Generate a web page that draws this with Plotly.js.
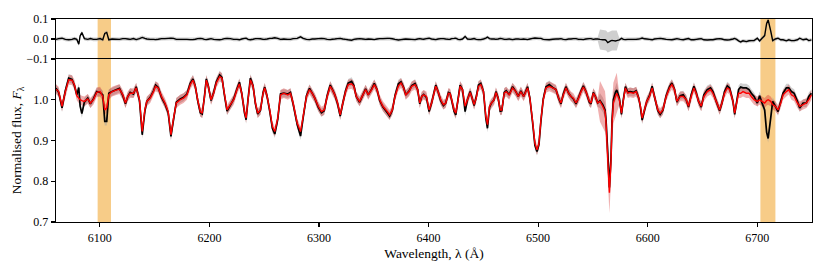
<!DOCTYPE html>
<html><head><meta charset="utf-8">
<script src="https://cdn.plot.ly/plotly-3.0.1.min.js"></script>
<style>html,body{margin:0;padding:0;background:#fff}#chart{width:830px;height:277px}</style>
</head><body><div id="chart"></div>
<script>
// Wavelength knots (Angstrom)
const wavelength = [
6060.0,6062.4,6065.5,6068.5,6071.6,6074.6,6076.8,6079.0,6080.8,6082.0,6083.6,6085.9,6089.0,6091.4,6094.1,6097.2,6100.2,
6102.7,6104.5,6106.3,6108.2,6111.2,6114.3,6117.9,6121.0,6123.4,6125.5,6127.7,6130.7,6133.2,6136.2,6138.7,6141.1,6142.9,6146.0,6149.0,6150.9,6153.3,6156.3,6159.4,6162.4,6164.9,6167.3,6169.8,6173.4,
6176.4,6179.5,6182.5,6185.0,6187.1,6189.3,6191.7,6193.5,6195.4,6197.2,6199.0,6201.5,6203.9,6206.3,6209.4,6211.5,6213.6,6216.1,6219.1,6222.2,6225.2,6227.4,6229.5,6232.0,6233.5,6235.3,6237.4,6239.9,6242.0,6244.1,6246.6,6249.0,6250.5,6252.7,6255.1,6257.5,6259.7,6262.4,6264.9,6267.9,6271.6,6274.0,6276.4,6280.1,6283.2,6285.6,6288.6,
6291.4,6293.8,6296.2,6299.3,6302.3,6304.8,6307.5,6310.3,6312.1,6314.5,6317.0,6319.4,6321.8,6324.3,6326.7,6329.8,6331.9,6334.0,6337.1,6340.1,6342.6,6345.0,6348.1,6350.5,6353.0,6355.4,6358.4,6362.4,6364.5,6367.0,6369.4,6372.5,6374.9,6377.3,6379.2,6382.2,6384.7,6387.7,6390.1,6392.0,6393.8,6395.6,6398.1,6400.5,6402.8,
6406.6,6408.7,6411.1,6413.6,6415.7,6418.2,6419.7,6421.2,6423.3,6424.9,6427.0,6428.8,6431.0,6433.4,6435.5,6438.0,6439.8,6441.6,6443.5,6445.6,6447.7,6450.2,6452.3,6453.8,6455.7,6457.5,6459.9,6461.5,6463.6,6465.4,6466.9,6469.1,6470.9,6473.6,6476.7,6479.7,6481.9,6484.3,6486.8,6490.4,6492.5,6495.0,6497.1,6499.0,6500.8,6502.6,6504.7,6507.2,6510.2,6513.3,6516.3,
6518.7,6520.9,6523.0,6525.4,6527.9,6530.0,6532.2,6534.6,6537.0,6539.2,6541.3,6543.7,6546.8,6548.3,6550.4,6552.3,6554.4,6556.5,6559.0,6561.1,6562.0,6563.6,6565.1,6566.6,6567.5,6568.7,6570.6,6571.8,6574.2,6576.1,6577.9,6579.7,6581.9,6584.0,6587.0,6589.5,6591.9,6593.4,6595.0,6597.1,6599.2,6601.7,6604.1,6606.2,6609.3,6611.4,6613.9,6616.9,6620.0,6622.1,6624.5,6626.7,6629.7,6632.5,
6635.2,6637.3,6639.7,6642.2,6644.3,6646.5,6648.9,6651.3,6654.4,6657.4,6659.6,6662.6,6665.7,6667.8,6670.2,6672.7,6674.8,6677.9,6679.4,6681.2,6683.0,6684.9,6687.0,6690.1,6692.5,6694.6,6697.1,6700.1,6702.2,6704.4,6706.8,6708.6,6710.0,6712.3,6714.1,6716.6,6719.0,6721.5,6723.6,6726.6,6728.8,6731.2,6733.7,6736.7,6738.8,6741.9,6744.9,6747.1,6749.5
];
// Model spectrum (red)
const modelFlux = [
1.026,1.020,0.984,1.020,1.049,1.048,1.037,1.010,1.004,1.000,0.998,0.996,1.002,0.992,1.000,1.018,1.020,
1.008,0.975,0.980,1.012,1.020,1.023,1.026,1.012,0.992,1.008,1.016,1.016,1.029,1.000,0.922,0.975,0.996,1.004,1.020,1.033,1.029,1.008,0.992,0.971,0.914,0.955,0.992,1.000,
1.004,1.012,1.037,1.048,1.033,1.000,0.971,0.967,1.004,1.048,1.033,1.000,1.016,1.041,1.057,1.053,1.016,0.975,0.988,1.000,1.025,1.039,1.016,0.971,0.955,1.000,1.049,1.033,0.992,0.967,0.975,1.016,1.029,1.008,0.975,0.934,0.922,0.955,1.012,1.016,1.012,1.016,0.992,0.943,0.922,0.959,1.008,
1.025,1.016,1.004,0.984,0.971,0.975,1.008,1.033,1.025,1.012,0.992,0.963,0.992,1.020,1.037,1.039,1.033,1.008,0.996,1.012,1.025,1.012,1.025,1.037,1.025,1.000,0.984,0.971,0.963,0.975,1.008,1.034,1.041,1.029,1.012,1.020,1.033,1.037,1.025,0.992,1.008,1.012,1.008,0.975,0.992,
1.033,1.020,1.000,0.988,0.992,1.016,1.015,1.000,0.975,0.967,1.000,1.033,1.025,0.984,1.000,1.018,1.004,0.988,1.004,1.033,1.037,1.020,0.959,0.939,0.984,0.992,1.000,1.018,1.004,0.975,0.975,1.016,1.020,1.012,1.029,1.020,1.008,1.020,1.008,1.029,1.004,0.947,0.893,0.877,0.893,0.951,1.000,1.029,1.033,1.029,1.025,
1.004,0.992,1.012,1.029,1.016,1.008,1.004,0.992,1.004,1.020,1.031,1.020,0.996,0.992,1.016,1.008,0.992,0.996,0.984,0.971,0.943,0.852,0.772,0.852,0.943,0.992,1.008,1.016,1.000,0.967,1.000,1.029,1.016,1.018,1.016,1.020,1.004,0.984,0.955,0.975,0.996,1.008,1.029,1.008,0.975,0.967,0.975,1.008,1.029,1.037,1.025,0.996,1.008,1.008,
1.000,0.984,1.008,1.029,1.016,0.996,0.984,1.008,1.020,1.025,1.016,0.996,0.975,0.992,1.016,1.029,1.025,0.996,0.967,0.992,1.016,1.016,1.020,1.016,1.016,1.008,1.000,0.996,1.000,0.996,0.992,0.998,1.000,0.996,0.988,0.984,0.975,0.992,1.012,1.020,1.025,1.012,1.008,0.992,0.984,0.988,0.992,1.000,1.012
];
// Observed spectrum (black)
const obsFlux = [
1.028,1.018,0.980,1.022,1.053,1.050,1.035,1.012,1.030,0.985,0.966,0.994,1.004,0.990,1.002,1.020,1.018,
1.012,0.947,0.947,1.016,1.020,1.024,1.028,1.010,0.990,1.008,1.018,1.014,1.032,0.998,0.914,0.972,0.996,1.006,1.022,1.036,1.030,1.006,0.990,0.968,0.910,0.952,0.994,1.002,
1.006,1.014,1.040,1.051,1.034,0.998,0.968,0.965,1.006,1.051,1.034,0.998,1.018,1.044,1.061,1.055,1.014,0.972,0.986,1.002,1.027,1.043,1.016,0.968,0.951,1.002,1.053,1.034,0.990,0.965,0.974,1.018,1.031,1.008,0.972,0.930,0.916,0.952,1.014,1.016,1.014,1.018,0.990,0.940,0.911,0.956,1.010,
1.028,1.016,1.004,0.982,0.968,0.973,1.010,1.036,1.026,1.012,0.990,0.960,0.992,1.022,1.041,1.045,1.035,1.008,0.994,1.012,1.027,1.012,1.026,1.040,1.025,0.998,0.982,0.968,0.960,0.974,1.010,1.039,1.044,1.030,1.012,1.021,1.035,1.040,1.025,0.990,1.008,1.013,1.006,0.971,0.992,
1.036,1.020,0.998,0.986,0.992,1.018,1.016,0.998,0.972,0.963,1.002,1.036,1.025,0.971,1.000,1.020,1.004,0.986,1.006,1.036,1.040,1.020,0.955,0.930,0.982,0.992,1.000,1.020,1.004,0.972,0.973,1.018,1.022,1.012,1.032,1.020,1.008,1.022,1.008,1.032,1.004,0.944,0.888,0.873,0.890,0.948,1.002,1.032,1.037,1.030,1.025,
1.004,0.990,1.014,1.032,1.016,1.008,1.002,0.990,1.006,1.022,1.034,1.020,0.994,0.990,1.018,1.008,0.992,0.998,0.988,0.975,0.950,0.870,0.785,0.860,0.950,1.000,1.018,1.024,1.004,0.964,1.002,1.032,1.018,1.020,1.018,1.022,1.004,0.982,0.950,0.974,0.996,1.010,1.033,1.008,0.973,0.964,0.974,1.010,1.032,1.041,1.026,0.994,1.010,1.012,
1.000,0.982,1.012,1.033,1.018,0.996,0.982,1.012,1.025,1.029,1.020,0.996,0.973,0.992,1.020,1.034,1.029,0.996,0.964,0.994,1.025,1.031,1.029,1.029,1.025,1.016,1.008,0.992,1.010,0.992,0.975,0.920,0.905,0.955,0.996,0.984,0.971,0.996,1.016,1.029,1.029,1.020,1.016,0.996,0.980,0.992,0.992,1.008,1.016
];
// 1-sigma uncertainties: typical value and value inside the H-alpha window
const halphaWindow = [6554.5, 6573.0];
const obsErrLevels = [0.010, 0.018];
const modelErrLevels = [0.012, 0.05];
const residErrLevels = [0.009, 0.05];
// Masked (shaded) wavelength regions
const maskedRegions = [[6098.0, 6110.2], [6702.9, 6716.6]];
const xTickVals = [6100, 6200, 6300, 6400, 6500, 6600, 6700];
const yTickMain = [0.7, 0.8, 0.9, 1.0];
const yTickResid = [-0.1, 0.0, 0.1];

const inHa = l => (l >= halphaWindow[0] && l <= halphaWindow[1]) ? 1 : 0;
const obsErr = wavelength.map(l => obsErrLevels[inHa(l)]);
const modelErr = wavelength.map(l => modelErrLevels[inHa(l)]);
const residErr = wavelength.map(l => residErrLevels[inHa(l)]);
const resid = modelFlux.map((m, i) => m - obsFlux[i]);

const noHover = {hoverinfo: 'skip', showlegend: false};
const clear = {width:0, color:'rgba(0,0,0,0)'};
const traces = [
  Object.assign({x: wavelength, y: obsFlux.map((v,i)=>v+obsErr[i]), mode:'lines', line:clear, xaxis:'x', yaxis:'y'}, noHover),
  Object.assign({x: wavelength, y: obsFlux.map((v,i)=>v-obsErr[i]), mode:'lines', line:clear, fill:'tonexty', fillcolor:'rgba(160,160,160,0.5)', xaxis:'x', yaxis:'y'}, noHover),
  Object.assign({x: wavelength, y: modelFlux.map((v,i)=>v+modelErr[i]), mode:'lines', line:clear, xaxis:'x', yaxis:'y'}, noHover),
  Object.assign({x: wavelength, y: modelFlux.map((v,i)=>v-modelErr[i]), mode:'lines', line:clear, fill:'tonexty', fillcolor:'rgba(215,45,45,0.38)', xaxis:'x', yaxis:'y'}, noHover),
  Object.assign({x: wavelength, y: obsFlux, mode:'lines', line:{width:1.7, color:'#000', simplify:false}, xaxis:'x', yaxis:'y'}, noHover),
  Object.assign({x: wavelength, y: modelFlux, mode:'lines', line:{width:1.4, color:'#ff0000', simplify:false}, xaxis:'x', yaxis:'y'}, noHover),
  Object.assign({x: wavelength, y: resid.map((v,i)=>v+residErr[i]), mode:'lines', line:clear, xaxis:'x2', yaxis:'y2'}, noHover),
  Object.assign({x: wavelength, y: resid.map((v,i)=>v-residErr[i]), mode:'lines', line:clear, fill:'tonexty', fillcolor:'rgba(160,160,160,0.5)', xaxis:'x2', yaxis:'y2'}, noHover),
  Object.assign({x: wavelength, y: resid, mode:'lines', line:{width:1.4, color:'#000', simplify:false}, xaxis:'x2', yaxis:'y2'}, noHover)
];

const font = {family: '"Liberation Serif", "Times New Roman", serif', size: 12, color: '#000'};
const titleFont = {family: '"Liberation Serif", "Times New Roman", serif', size: 13.5, color: '#000'};
const axisCommon = {showline:true, mirror:true, linecolor:'#000', linewidth:1.3, showgrid:false, zeroline:false,
  ticks:'outside', ticklen:4, tickwidth:1.1, tickcolor:'#000', tickfont:font};

const layout = {
  width: 830, height: 277,
  margin: {l:56, r:18, t:19, b:55, pad:0},
  paper_bgcolor:'#fff', plot_bgcolor:'#fff',
  font: font,
  showlegend: false,
  xaxis: Object.assign({}, axisCommon, {domain:[0,1], anchor:'y', range:[6060, 6750], tickvals:xTickVals,
    title:{text:'Wavelength, λ (Å)', font:titleFont, standoff:4}}),
  yaxis: Object.assign({}, axisCommon, {domain:[0,0.803], anchor:'x', range:[0.7, 1.1], tickvals:yTickMain, tickformat:'.1f',
    title:{text:'Normalised flux, <i>F</i><sub>λ</sub>', font:titleFont, standoff:8}}),
  xaxis2: Object.assign({}, axisCommon, {domain:[0,1], anchor:'y2', side:'top', mirror:false, matches:'x', range:[6060, 6750], showticklabels:false, ticks:''}),
  yaxis2: Object.assign({}, axisCommon, {domain:[0.803,1], anchor:'x2', range:[-0.1, 0.1], tickvals:yTickResid, tickformat:'.1f'}),
  shapes: maskedRegions.map(r => ({type:'rect', xref:'x', yref:'paper', x0:r[0], x1:r[1], y0:0, y1:1,
    fillcolor:'#f7cc88', line:{width:0}, layer:'below'}))
};

Plotly.newPlot('chart', traces, layout, {displayModeBar:false, staticPlot:true});
</script>
</body></html>
